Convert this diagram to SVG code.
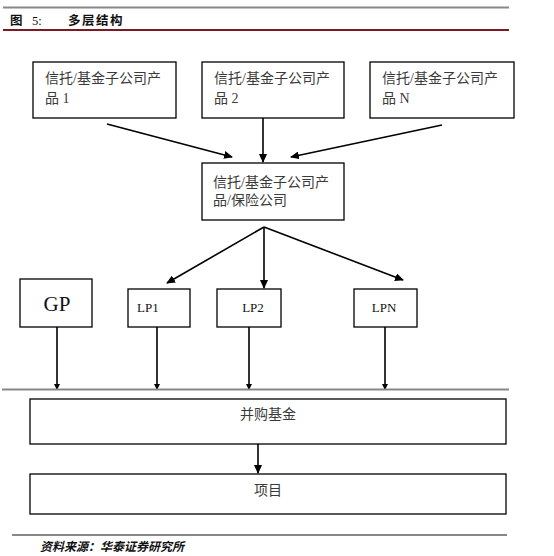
<svg xmlns="http://www.w3.org/2000/svg" width="554" height="556" viewBox="0 0 554 556">
<style>
.box{fill:#fff;stroke:#000;stroke-width:1.3}
.t{font-family:"Liberation Serif","Noto Sans CJK SC",serif;font-size:14px;fill:#3a3a3a}
.lp{font-family:"Liberation Serif",serif;font-size:13px;fill:#111}
.c{stroke:#000;stroke-width:1.6;fill:none}
.rule{stroke:#888;stroke-width:2.2}
</style>
<defs>
<marker id="ah" markerUnits="userSpaceOnUse" markerWidth="9" markerHeight="8" refX="8" refY="4" orient="auto">
<path d="M0,0 L9,4 L0,8 z" fill="#000"/>
</marker>
<marker id="sm" markerUnits="userSpaceOnUse" markerWidth="6" markerHeight="6" refX="5" refY="3" orient="auto">
<path d="M0,0 L6,3 L0,6 z" fill="#000"/>
</marker>
</defs>
<rect width="554" height="556" fill="#fff"/>
<g id="header">
<line x1="3" y1="7.5" x2="509" y2="7.5" class="rule"/>
<text x="10" y="25" font-family="'Noto Sans CJK SC',sans-serif" font-size="12.5" font-weight="bold" fill="#111">图</text>
<text x="32" y="25" font-family="'Liberation Serif',serif" font-size="12.5" fill="#111">5:</text>
<text x="68" y="25" font-family="'Noto Sans CJK SC',sans-serif" font-size="12.5" font-weight="bold" fill="#111" letter-spacing="1.5">多层结构</text>
<line x1="3" y1="30" x2="509" y2="30" stroke="#7a1a22" stroke-width="2"/>
</g>
<g id="connectors">
<line x1="107" y1="124" x2="232" y2="157" class="c" marker-end="url(#ah)"/>
<line x1="263" y1="118" x2="263" y2="162" class="c" marker-end="url(#ah)"/>
<line x1="442" y1="125" x2="291" y2="157" class="c" marker-end="url(#ah)"/>
<line x1="264" y1="227" x2="167" y2="283" class="c" marker-end="url(#ah)"/>
<line x1="264" y1="227" x2="264" y2="288" class="c" marker-end="url(#ah)"/>
<line x1="264" y1="227" x2="403" y2="280" class="c" marker-end="url(#ah)"/>
<line x1="57" y1="327" x2="57" y2="389" class="c" marker-end="url(#sm)"/>
<line x1="157" y1="327" x2="157" y2="389" class="c" marker-end="url(#sm)"/>
<line x1="249" y1="327" x2="249" y2="389" class="c" marker-end="url(#sm)"/>
<line x1="385" y1="327" x2="385" y2="389" class="c" marker-end="url(#sm)"/>
<line x1="258" y1="444" x2="258" y2="473" class="c" marker-end="url(#ah)"/>
</g>
<line x1="2" y1="389.5" x2="509" y2="389.5" class="rule"/>
<g id="p1">
<rect x="33" y="62" width="143" height="56" class="box"/>
<text x="45" y="83" class="t">信托/基金子公司产</text>
<text x="45" y="103" class="t">品 1</text>
</g>
<g id="p2">
<rect x="202" y="62" width="142" height="56" class="box"/>
<text x="214" y="83" class="t">信托/基金子公司产</text>
<text x="214" y="103" class="t">品 2</text>
</g>
<g id="pN">
<rect x="370" y="62" width="144" height="56" class="box"/>
<text x="382" y="83" class="t">信托/基金子公司产</text>
<text x="382" y="103" class="t">品 N</text>
</g>
<g id="mid">
<rect x="202" y="163" width="142" height="57" class="box"/>
<text x="213" y="187" class="t">信托/基金子公司产</text>
<text x="213" y="205" class="t">品/保险公司</text>
</g>
<g id="gp">
<rect x="20" y="279" width="72" height="48" class="box"/>
<text x="57" y="311" style="font-family:'Liberation Serif',serif;font-size:21px;fill:#111" text-anchor="middle">GP</text>
</g>
<g id="lp1">
<rect x="128" y="289" width="62" height="38" class="box"/>
<text x="137" y="312" class="lp">LP1</text>
</g>
<g id="lp2">
<rect x="217" y="289" width="64" height="38" class="box"/>
<text x="253" y="312" class="lp" text-anchor="middle">LP2</text>
</g>
<g id="lpn">
<rect x="354" y="289" width="63" height="38" class="box"/>
<text x="384" y="312" class="lp" text-anchor="middle">LPN</text>
</g>
<g id="fund">
<rect x="30" y="399" width="476" height="45" class="box"/>
<text x="268" y="419" class="t" text-anchor="middle">并购基金</text>
</g>
<g id="project">
<rect x="30" y="474" width="476" height="40" class="box"/>
<text x="268" y="495" class="t" text-anchor="middle">项目</text>
</g>
<g id="footer">
<line x1="12" y1="535" x2="507" y2="535" class="rule"/>
<text x="40" y="551" font-family="'Noto Sans CJK SC',sans-serif" font-size="12" font-weight="bold" font-style="italic" fill="#111">资料来源：华泰证券研究所</text>
</g>
</svg>
